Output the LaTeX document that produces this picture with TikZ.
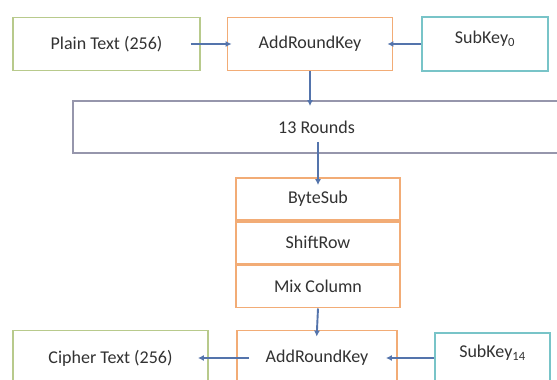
\documentclass[tikz,border=0pt]{standalone}
\usepackage{fontspec}
\setmainfont{Carlito}
\usepackage{xcolor}
\usetikzlibrary{arrows.meta, positioning}
\definecolor{aesgreen}{RGB}{184, 202, 140}
\definecolor{aesorange}{RGB}{242, 172, 118}
\definecolor{aesteal}{RGB}{120, 196, 200}
\definecolor{aesgray}{RGB}{150, 150, 172}
\definecolor{aesarrow}{RGB}{84, 116, 172}
\definecolor{aestext}{RGB}{50, 50, 50}

\begin{document}
\begin{tikzpicture}[
    x=1pt, y=1pt,
    font=\fontsize{18}{21}\selectfont, text=aestext,
    % all boxes share the same plain frame
    basebox/.style={rectangle, draw, line width=1.8pt, inner sep=0pt, minimum height=53pt, align=center},
    keybox/.style={basebox, draw=aesteal, text height=13pt, text depth=14pt},
    stagebox/.style={basebox, draw=aesorange, minimum width=164pt, minimum height=42pt},
    arr/.style={-{Latex[length=6pt, width=6pt]}, line width=1.9pt, color=aesarrow}
  ]
  \clip (0,0) rectangle (557,380);
  \fill[white] (0,0) rectangle (557,380);

  % first round
  \node[basebox, draw=aesgreen, minimum width=187pt] (plain) at (106.5,336) {Plain Text (256)};
  \node[basebox, draw=aesorange, minimum width=165pt] (ark1) at (310,336) {AddRoundKey};
  \node[keybox, minimum width=126pt, minimum height=54pt] (key0) at (485,336) {SubKey\textsubscript{0}};

  \node[basebox, draw=aesgray, minimum width=487pt, minimum height=52pt] (rounds) at (316.5,253) {13 Rounds};

  % round stages
  \node[stagebox] (bytesub) at (318,181) {ByteSub};
  \node[stagebox, below=0pt of bytesub] (shiftrow) {ShiftRow};
  \node[stagebox, below=0pt of shiftrow] (mixcol) {Mix Column};

  % last round
  \node[basebox, draw=aesgreen, minimum width=195pt, minimum height=55pt] (cipher) at (110.5,22) {Cipher Text (256)};
  \node[basebox, draw=aesorange, minimum width=160pt, minimum height=55pt] (ark2) at (317,22) {AddRoundKey};
  \node[keybox, minimum width=115pt, minimum height=50pt] (key14) at (492.5,22) {SubKey\textsubscript{14}};

  \draw[arr, shorten <=-10pt, shorten >=-5pt] (plain.east) -- (ark1.west);
  \draw[arr, shorten >=-6pt] (key0.west) -- (key0.west -| ark1.east);
  \draw[arr, shorten >=-6pt] (ark1.south) -- (ark1.south |- rounds.north);
  \draw[arr, shorten <=-12pt, shorten >=-8pt] (rounds.south -| bytesub.north) -- (bytesub.north);
  \draw[arr, shorten >=-7pt] (mixcol.south) -- (ark2.north);
  \draw[arr, shorten <=-13pt, shorten >=-11pt] (ark2.west) -- (cipher.east);
  \draw[arr, shorten >=-12pt] (key14.west) -- (key14.west -| ark2.east);
\end{tikzpicture}
\end{document}
